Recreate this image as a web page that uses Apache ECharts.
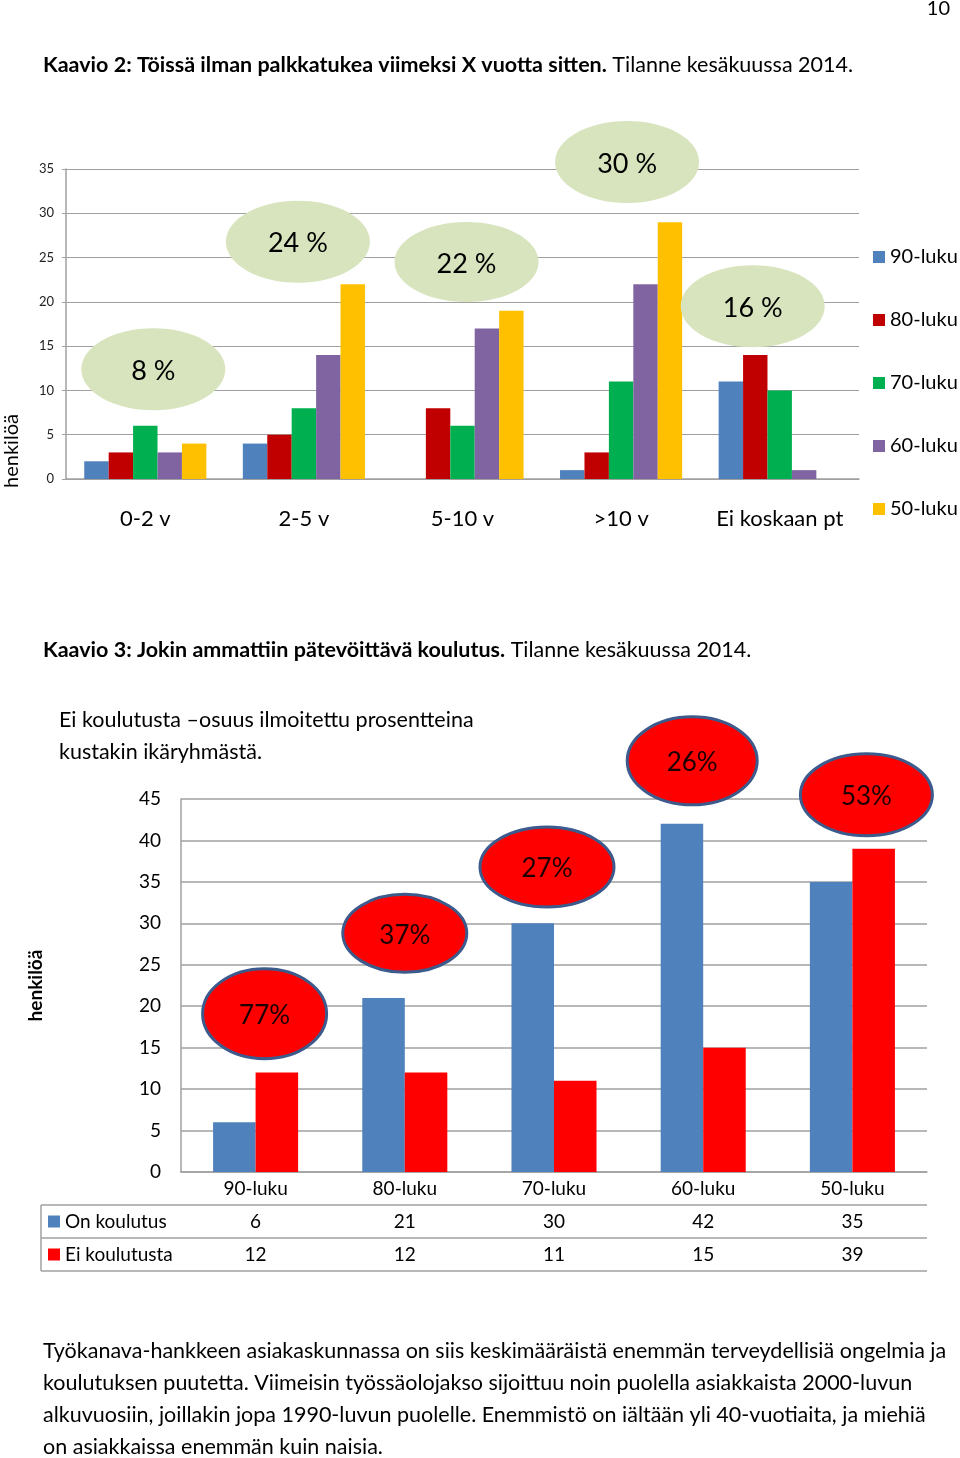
<!DOCTYPE html>
<html><head><meta charset="utf-8">
<script src="https://cdn.jsdelivr.net/npm/echarts@6/dist/echarts.min.js"></script>
<style>html,body{margin:0;padding:0;background:#fff}#c{width:960px;height:1458px}</style>
</head><body><div id="c"></div>
<script>
// ---------- Kaavio 2 data ----------
const periods = ['0-2 v', '2-5 v', '5-10 v', '>10 v', 'Ei koskaan pt'];
const decadeNames = ['90-luku', '80-luku', '70-luku', '60-luku', '50-luku'];
const v90 = [2, 4, 0, 1, 11];
const v80 = [3, 5, 8, 3, 14];
const v70 = [6, 8, 6, 11, 10];
const v60 = [3, 14, 17, 22, 1];
const v50 = [4, 22, 19, 29, 0];
const periodPct = ['8 %', '24 %', '22 %', '30 %', '16 %'];
const periodPctAt = [12.4, 26.8, 24.5, 35.8, 19.5];

// ---------- Kaavio 3 data ----------
const ageGroups = ['90-luku', '80-luku', '70-luku', '60-luku', '50-luku'];
const onKoulutus = [6, 21, 30, 42, 35];
const eiKoulutusta = [12, 12, 11, 15, 39];
const eiPct = ['77%', '37%', '27%', '26%', '53%'];
const eiPctAt = [19.1, 28.8, 36.8, 49.6, 45.5];

// ---------- styles / layout ----------
const F = 'Lato, "Open Sans", sans-serif';
const colors1 = ['#4f81bd', '#c00000', '#00b050', '#8064a2', '#ffc000'];
const colors2 = ['#4f81bd', '#ff0000'];
const GRID = '#a0a0a0';
const BODY = 21.5;
// pixel offsets & radii for annotation ellipses [dx, rx, ry]
const ell1 = [[8, 72, 41], [-6, 72, 41], [4, 72, 40], [6, 72, 41], [-27, 72, 41]];
const ell2 = [[9, 62, 45], [0, 62, 39], [-7, 67, 40], [-11, 65, 44], [14, 66, 41]];

function ellipseSeries(xi, yi, labels, at, geo, st) {
  return {
    type: 'custom', xAxisIndex: xi, yAxisIndex: yi, silent: true, z: 10, clip: false,
    data: labels.map((t, i) => [i, at[i]]),
    renderItem(params, api) {
      const i = params.dataIndex;
      const p = api.coord([api.value(0), api.value(1)]);
      const g = geo[i];
      const cx = p[0] + g[0], cy = p[1];
      return { type: 'group', children: [
        { type: 'ellipse', shape: { cx, cy, rx: g[1], ry: g[2] },
          style: { fill: st.fill, stroke: st.stroke, lineWidth: st.lw } },
        { type: 'text', x: cx, y: cy + 2, style: { text: labels[i], align: 'center', verticalAlign: 'middle',
          fontSize: st.fs, fontFamily: F, fill: st.color } }
      ]};
    }
  };
}

const chart = echarts.init(document.getElementById('c'), null, { renderer: 'canvas' });
const series1 = [v90, v80, v70, v60, v50].map((d, k) => ({
  name: decadeNames[k], type: 'bar', xAxisIndex: 0, yAxisIndex: 0, data: d,
  barGap: '0%', barCategoryGap: '23%', itemStyle: { color: colors1[k] }, animation: false
}));
const series2 = [
  { name: 'On koulutus', type: 'bar', xAxisIndex: 1, yAxisIndex: 1, data: onKoulutus,
    barGap: '0%', barCategoryGap: '43%', itemStyle: { color: colors2[0] }, animation: false },
  { name: 'Ei koulutusta', type: 'bar', xAxisIndex: 1, yAxisIndex: 1, data: eiKoulutusta,
    barGap: '0%', barCategoryGap: '43%', itemStyle: { color: colors2[1] }, animation: false }
];

chart.setOption({
  animation: false,
  backgroundColor: '#fff',
  grid: [
    { left: 66, right: 101, top: 169, height: 310 },
    { left: 181, right: 33, top: 799, height: 373 }
  ],
  legend: {
    data: decadeNames, orient: 'vertical', left: 868, top: 242, itemWidth: 12, itemHeight: 12,
    itemGap: 43, icon: 'rect', selectedMode: false,
    textStyle: { fontSize: 20, fontFamily: F, color: '#000', lineHeight: 20 }
  },
  xAxis: [
    { type: 'category', gridIndex: 0, data: periods,
      axisLine: { lineStyle: { color: GRID, width: 1.5 } },
      axisTick: { length: 7, lineStyle: { color: GRID, width: 1.5 } },
      axisLabel: { fontSize: 22, fontFamily: F, color: '#000', margin: 29, interval: 0, hideOverlap: false } },
    { type: 'category', gridIndex: 1, data: ageGroups,
      axisLine: { lineStyle: { color: GRID, width: 1.5 } },
      axisTick: { length: 99, lineStyle: { color: GRID, width: 1.5 } },
      axisLabel: { fontSize: 19, fontFamily: F, color: '#000', margin: 7, interval: 0 } }
  ],
  yAxis: [
    { type: 'value', gridIndex: 0, min: 0, max: 35, interval: 5,
      axisLine: { show: true, lineStyle: { color: GRID, width: 1.5 } },
      axisTick: { show: true, length: 4, lineStyle: { color: GRID } },
      splitLine: { lineStyle: { color: GRID, width: 1.2 } },
      axisLabel: { fontSize: 13, fontFamily: F, color: '#222', margin: 12 } },
    { type: 'value', gridIndex: 1, min: 0, max: 45, interval: 5,
      name: 'henkilöä', nameLocation: 'middle', nameGap: 136, nameRotate: 90,
      nameTextStyle: { fontSize: 19, fontWeight: 'bold', fontFamily: F, color: '#000' },
      axisLine: { show: true, lineStyle: { color: GRID, width: 1.5 } },
      axisTick: { show: false },
      splitLine: { lineStyle: { color: GRID, width: 1.5 } },
      axisLabel: { fontSize: 19, fontFamily: F, color: '#000', margin: 20 } }
  ],
  series: [
    ...series1, ...series2,
    ellipseSeries(0, 0, periodPct, periodPctAt, ell1, { fill: '#d7e4bd', stroke: null, lw: 0, fs: 27, color: '#000' }),
    ellipseSeries(1, 1, eiPct, eiPctAt, ell2, { fill: '#ff0000', stroke: '#3c5a8c', lw: 3, fs: 26, color: '#1a0000' })
  ]
});

// ---------- texts & table built on top of the axes ----------
const txt = (x, y, text, size, extra) => Object.assign({ type: 'text', x, y, silent: true,
  style: Object.assign({ text, fontSize: size, fontFamily: F, fill: '#000', align: 'left', verticalAlign: 'middle' }, extra || {}) });
const rich = (size) => ({ b: { fontWeight: 'bold', fontSize: size, fontFamily: F, fill: '#000' }, r: { fontSize: size, fontFamily: F, fill: '#000' } });

const G = [];
G.push(txt(950, 9, '10', 20, { align: 'right' }));
G.push({ type: 'text', x: 43, y: 65, silent: true, style: { text: '{b|Kaavio 2: Töissä ilman palkkatukea viimeksi X vuotta sitten.} {r|Tilanne kesäkuussa 2014.}', rich: rich(BODY), verticalAlign: 'middle', fontFamily: F, fontSize: BODY } });
G.push({ type: 'text', x: 43, y: 650, silent: true, style: { text: '{b|Kaavio 3: Jokin ammattiin pätevöittävä koulutus.} {r|Tilanne kesäkuussa 2014.}', rich: rich(BODY), verticalAlign: 'middle', fontFamily: F, fontSize: BODY } });
G.push(txt(59, 720, 'Ei koulutusta –osuus ilmoitettu prosentteina', BODY));
G.push(txt(59, 752, 'kustakin ikäryhmästä.', BODY));
G.push(Object.assign(txt(12, 451, 'henkilöä', 20, { align: 'center' }), { rotation: Math.PI / 2 }));
const para = [
  'Työkanava-hankkeen asiakaskunnassa on siis keskimääräistä enemmän terveydellisiä ongelmia ja',
  'koulutuksen puutetta. Viimeisin työssäolojakso sijoittuu noin puolella asiakkaista 2000-luvun',
  'alkuvuosiin, joillakin jopa 1990-luvun puolelle. Enemmistö on iältään yli 40-vuotiaita, ja miehiä',
  'on asiakkaissa enemmän kuin naisia.'
];
para.forEach((l, i) => G.push(txt(43, 1351 + 32 * i, l, BODY)));

// data table under Kaavio 3
const y0 = chart.convertToPixel({ yAxisIndex: 1 }, 0);
const rowH = 33;
const xL = 41;
const step = chart.convertToPixel({ xAxisIndex: 1 }, 1) - chart.convertToPixel({ xAxisIndex: 1 }, 0);
const xR = chart.convertToPixel({ xAxisIndex: 1 }, ageGroups.length - 1) + step / 2;
const ls = { stroke: GRID, lineWidth: 1.5 };
[1, 2, 3].forEach(r => G.push({ type: 'line', silent: true, shape: { x1: xL, y1: y0 + rowH * r, x2: xR, y2: y0 + rowH * r }, style: ls }));
G.push({ type: 'line', silent: true, shape: { x1: xL, y1: y0 + rowH, x2: xL, y2: y0 + rowH * 3 }, style: ls });
const rows = [{ name: 'On koulutus', vals: onKoulutus, c: colors2[0] }, { name: 'Ei koulutusta', vals: eiKoulutusta, c: colors2[1] }];
rows.forEach((row, r) => {
  const yc = y0 + rowH * (r + 1) + rowH / 2;
  G.push({ type: 'rect', silent: true, shape: { x: 48, y: yc - 6, width: 12, height: 12 }, style: { fill: row.c } });
  G.push(txt(65, yc, row.name, 19));
  row.vals.forEach((v, i) => {
    const xc = chart.convertToPixel({ xAxisIndex: 1 }, i);
    G.push(txt(xc, yc, String(v), 19, { align: 'center' }));
  });
});
chart.setOption({ graphic: G });
</script></body></html>
